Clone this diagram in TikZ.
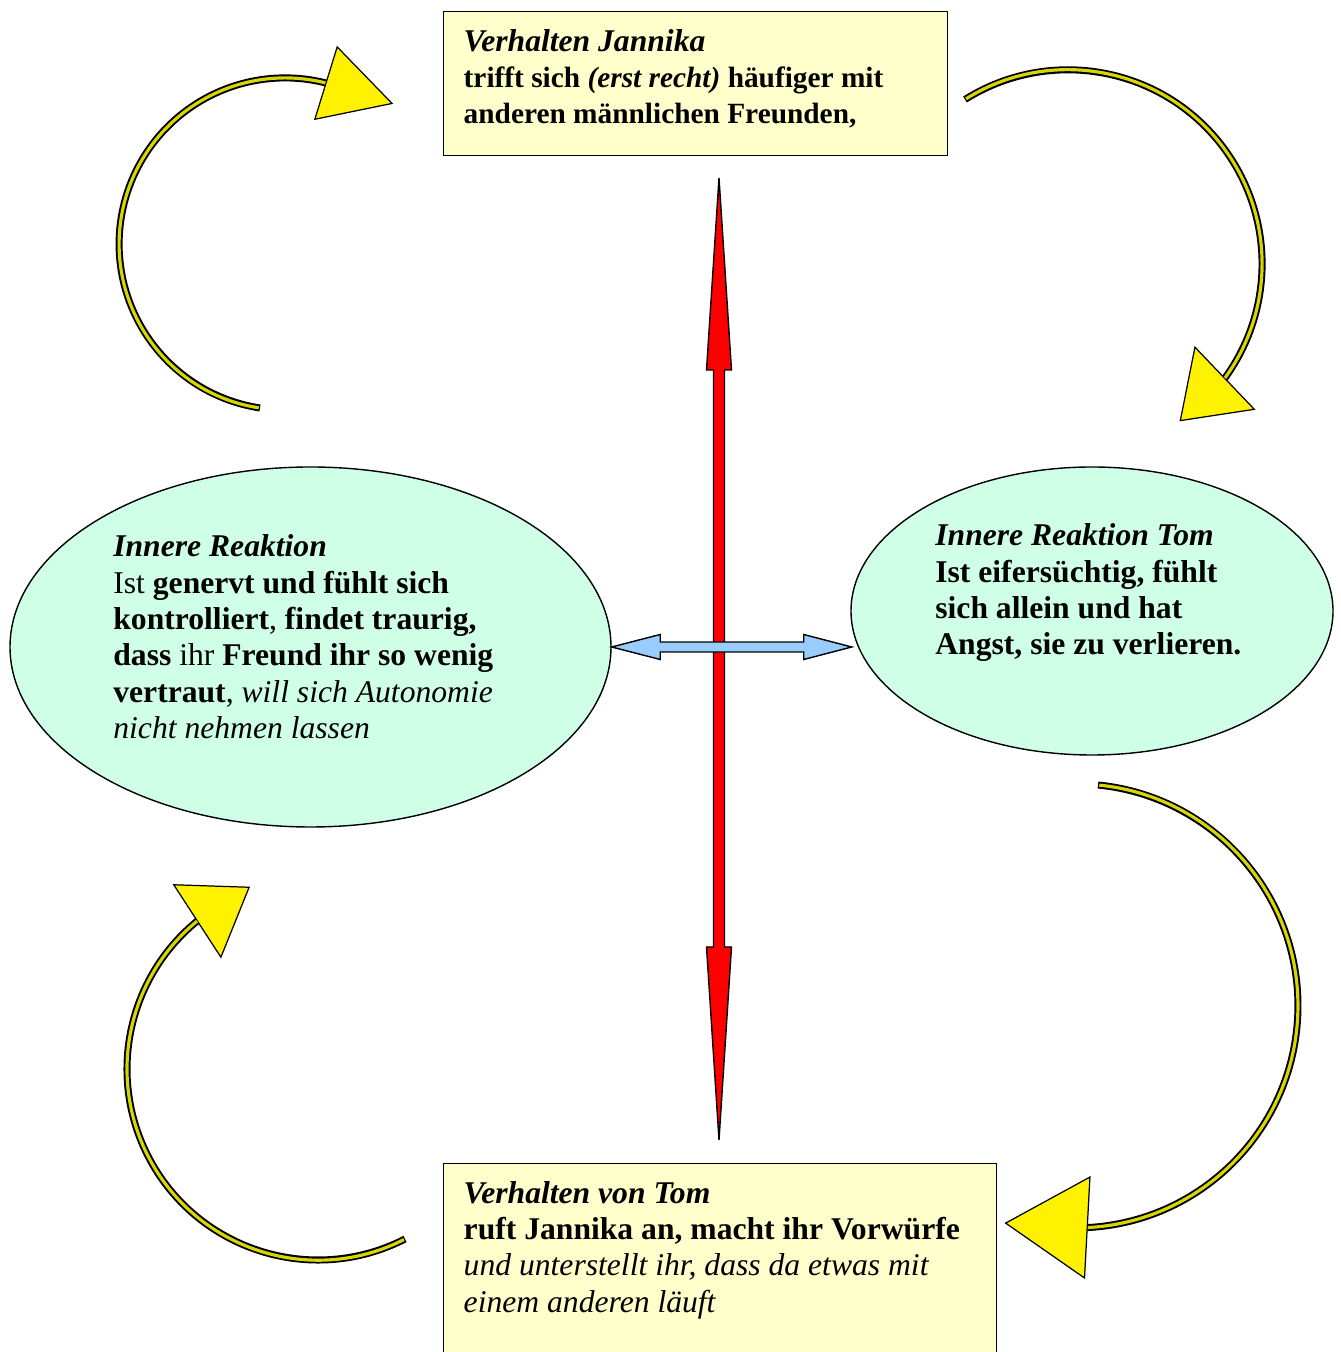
\documentclass[tikz,border=0pt]{standalone}
\usepackage{fontspec}
\setmainfont{Liberation Serif}
\usetikzlibrary{shapes.geometric, arrows.meta, calc}
\definecolor{box_yellow}{RGB}{255, 255, 204}
\definecolor{mint}{RGB}{208, 255, 232}
\definecolor{light_blue}{RGB}{153, 204, 255}
\definecolor{olive_yellow}{RGB}{214, 214, 0}

\begin{document}
\begin{tikzpicture}[
    font=\fontsize{18}{20.7}\selectfont,
    verhalten/.style={
        rectangle,
        draw=black,
        fill=#1,
        line width=0.8pt,
        inner xsep=0.4cm,
        inner ysep=0.35cm,
        anchor=north west
    },
    reaktion/.style={
        ellipse,
        draw=black,
        fill=#1,
        line width=0.8pt
    },
    rtext/.style={
        anchor=north west,
        inner sep=0pt,
        align=left
    },
    doppelpfeil/.style={
        draw=black,
        fill=#1,
        line width=0.8pt
    },
    kreispfeil/.style 2 args={
        draw=black,
        line width=4pt,
        -{Triangle[length=#1, width=#2, fill=yellow, line width=0.7pt]},
        postaction={draw=olive_yellow, line width=1.8pt, arrows=-, shorten >=#1, shorten <=0.7pt}
    }
]
\useasboundingbox (0,0) rectangle (26.82,27.04);

% Verhalten
\node[verhalten=box_yellow] (jannika) at (8.86,26.82) {\parbox[t][2.18cm][t]{9.28cm}{%
    \textbf{\textit{Verhalten Jannika}}\\
    {\fontsize{16.7}{20.7}\selectfont\textbf{trifft sich \textit{(erst recht)} häufiger mit}\\
    \textbf{anderen männlichen Freunden,}}}};
\node[verhalten=box_yellow] (tom_verhalten) at (8.86,3.78) {\parbox[t][3.4cm][t]{10.26cm}{%
    \textbf{\textit{Verhalten von Tom}}\\
    \textbf{ruft Jannika an, macht ihr Vorwürfe}\\
    \textit{und unterstellt ihr, dass da etwas mit}\\
    \textit{einem anderen läuft}}};

% innere Reaktionen
\node[reaktion=mint, minimum width=12.02cm, minimum height=7.2cm] (links) at (6.21,14.1) {};
\node[reaktion=mint, minimum width=9.64cm, minimum height=5.76cm] (tom) at (21.84,14.82) {};

\node[rtext] (links_text) at (2.26,16.35) {\textbf{\textit{Innere Reaktion}}\\
    Ist \textbf{genervt und fühlt sich}\\
    \textbf{kontrolliert}, \textbf{findet traurig,}\\
    \textbf{dass} ihr \textbf{Freund ihr so wenig}\\
    \textbf{vertraut}, \textit{will sich Autonomie}\\
    \textit{nicht nehmen lassen}};
\node[rtext] (tom_text) at (18.7,16.57) {\textbf{\textit{Innere Reaktion Tom}}\\
    \textbf{Ist eifersüchtig, fühlt}\\
    \textbf{sich allein und hat}\\
    \textbf{Angst, sie zu verlieren.}};

% Pfeile in der Mitte
\coordinate (rot_oben) at (14.38,23.48);
\draw[doppelpfeil=red] (rot_oben) -- ++(0.25,-3.84) -- ++(-0.14,0) -- ++(0,-11.54) -- ++(0.14,0)
    -- ++(-0.25,-3.86) -- ++(-0.25,3.86) -- ++(0.14,0) -- ++(0,11.54) -- ++(-0.14,0) -- cycle;
\draw[doppelpfeil=light_blue] (links.east) -- ++(0.97,0.25) -- ++(0,-0.15) -- ++(2.87,0) -- ++(0,0.15)
    -- ++(0.96,-0.25) -- ++(-0.96,-0.25) -- ++(0,0.15) -- ++(-2.87,0) -- ++(0,-0.15) -- cycle;

% Kreislauf
\draw[kreispfeil={1.42cm}{1.55cm}] (5.2,18.88) arc[start angle=261.3, end angle=76, radius=3.32cm] -- ++(1.36,-0.42);
\draw[kreispfeil={1.26cm}{1.76cm}] (19.3,25.05) arc[start angle=122.1, end angle=-36, radius=3.88cm] -- ++(-0.91,-0.87);
\draw[kreispfeil={1.67cm}{2.06cm}] (21.96,11.34) arc[start angle=84.3, end angle=-86.9, radius=4.44cm] -- ++(-1.67,0.09);
\draw[kreispfeil={1.27cm}{1.77cm}] (8.1,2.26) arc[start angle=-62.9, end angle=-230.7, radius=3.82cm] -- ++(1.06,0.69);

\end{tikzpicture}
\end{document}
